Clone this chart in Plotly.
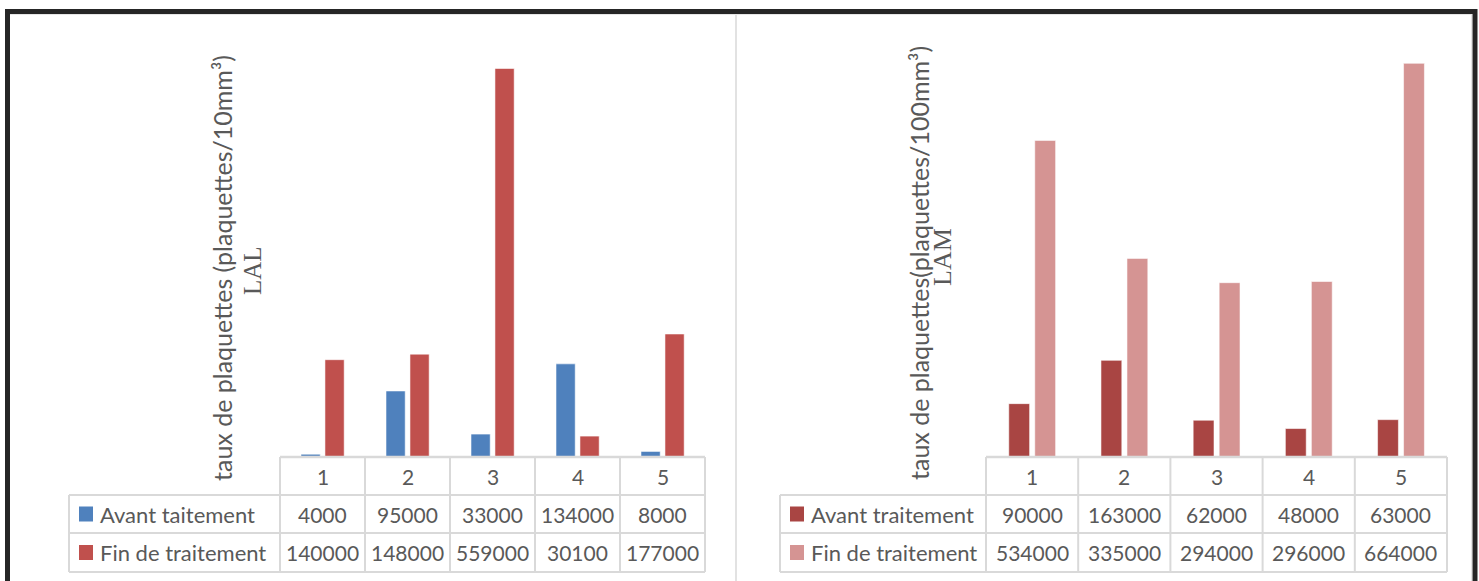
import plotly.graph_objects as go

# ---- data -------------------------------------------------------------
categories = [1, 2, 3, 4, 5]
tick_labels = ["1", "2", "3", "4", "5"]

lal_series = ["Avant taitement", "Fin de traitement"]
lal_avant = [4000, 95000, 33000, 134000, 8000]
lal_fin = [140000, 148000, 559000, 30100, 177000]

lam_series = ["Avant traitement", "Fin de traitement"]
lam_avant = [90000, 163000, 62000, 48000, 63000]
lam_fin = [534000, 335000, 294000, 296000, 664000]

lal_title = "taux de plaquettes (plaquettes/10mm³)"
lam_title = "taux de plaquettes(plaquettes/100mm³)"

# ---- page geometry ----------------------------------------------------
W, H = 1479, 581
TEXT = "#595959"
GRID = "#D9D9D9"
SANS = "Lato, 'Open Sans', sans-serif"
SERIF = "'Liberation Serif', 'DejaVu Serif', serif"
TABLE_SIZE = 21
LABEL_SIZE = 22
TITLE_SIZE = 25


def fx(px):
    return px / W


def fy(py):
    return 1 - py / H


panels = [
    dict(xa="x", ya="y", x0=280, x1=705, top=40, ymax=600000, tleft=69,
         names=lal_series, vals=(lal_avant, lal_fin),
         colors=("#4F81BD", "#C0504D"), title=lal_title, sub="LAL", sub_size=25,
         tx=222, sx=252, tcy=268, scy=271, key_x=79, lab_x=98),
    dict(xa="x2", ya="y2", x0=986, x1=1447, top=42, ymax=700000, tleft=780,
         names=lam_series, vals=(lam_avant, lam_fin),
         colors=("#A94543", "#D59493"), title=lam_title, sub="LAM", sub_size=26,
         tx=919, sx=942, tcy=263, scy=257, key_x=790, lab_x=809),
]

BASE = 457          # bar baseline / table top
ROWS = [457, 495, 533, 572]

fig = go.Figure()
shapes = []
annotations = []


def note(x, y, text, font, xref="paper", **kw):
    d = dict(x=x, y=y, xref=xref, yref="paper", text=text, showarrow=False,
             font=font, xanchor="center", yanchor="middle")
    d.update(kw)
    annotations.append(d)


for p in panels:
    # bars
    offsets = (-0.253, 0.029)
    for name, v, c, off in zip(p["names"], p["vals"], p["colors"], offsets):
        fig.add_trace(go.Bar(
            x=categories, y=v, name=name, xaxis=p["xa"], yaxis=p["ya"],
            width=0.226, offset=off,
            marker=dict(color=c, line=dict(color="rgba(255,255,255,0.55)", width=1)),
            showlegend=False, hoverinfo="x+y",
        ))

    # data table grid
    step = (p["x1"] - p["x0"]) / len(categories)
    bounds = [p["x0"] + i * step for i in range(len(categories) + 1)]
    for b in bounds:
        shapes.append(dict(type="line", xref="paper", yref="paper",
                           x0=fx(b), x1=fx(b), y0=fy(ROWS[0]), y1=fy(ROWS[-1]),
                           line=dict(color=GRID, width=2)))
    shapes.append(dict(type="line", xref="paper", yref="paper",
                       x0=fx(p["tleft"]), x1=fx(p["tleft"]), y0=fy(ROWS[1]), y1=fy(ROWS[-1]),
                       line=dict(color=GRID, width=2)))
    shapes.append(dict(type="line", xref="paper", yref="paper",
                       x0=fx(p["x0"]), x1=fx(p["x1"]), y0=fy(ROWS[0]), y1=fy(ROWS[0]),
                       line=dict(color=GRID, width=2.5)))
    for r in ROWS[1:]:
        shapes.append(dict(type="line", xref="paper", yref="paper",
                           x0=fx(p["tleft"]), x1=fx(p["x1"]), y0=fy(r), y1=fy(r),
                           line=dict(color=GRID, width=2)))

    tfont = dict(family=SANS, size=TABLE_SIZE, color=TEXT)
    lfont = dict(family=SANS, size=LABEL_SIZE, color=TEXT)

    # header row (category labels)
    hy = fy((ROWS[0] + ROWS[1]) / 2)
    for c, t in zip(categories, tick_labels):
        note(c, hy, t, tfont, xref=p["xa"])

    # value rows with legend keys
    for i, (name, v, col) in enumerate(zip(p["names"], p["vals"], p["colors"])):
        ry = (ROWS[i + 1] + ROWS[i + 2]) / 2
        for c, val in zip(categories, v):
            note(c, fy(ry), str(val), tfont, xref=p["xa"])
        shapes.append(dict(type="rect", xref="paper", yref="paper",
                           x0=fx(p["key_x"]), x1=fx(p["key_x"] + 14),
                           y0=fy(ry + 7.5), y1=fy(ry - 7.5),
                           fillcolor=col, line=dict(width=0)))
        note(fx(p["lab_x"]), fy(ry), name, lfont, xanchor="left")

    # vertical axis title (two lines)
    note(fx(p["tx"]), fy(p["tcy"]), p["title"],
         dict(family=SANS, size=TITLE_SIZE, color=TEXT), textangle=-90)
    note(fx(p["sx"]), fy(p["scy"]), p["sub"],
         dict(family=SERIF, size=p["sub_size"], color=TEXT), textangle=-90)

# divider between the two chart objects and their faint top edge
shapes.append(dict(type="line", xref="paper", yref="paper", x0=fx(736), x1=fx(736),
                   y0=fy(600), y1=fy(14), line=dict(color=GRID, width=1.5)))
shapes.append(dict(type="line", xref="paper", yref="paper", x0=fx(10), x1=fx(1472),
                   y0=fy(14.5), y1=fy(14.5), line=dict(color="#E6E6E6", width=1)))
shapes.append(dict(type="line", xref="paper", yref="paper", x0=fx(1471.5), x1=fx(1471.5),
                   y0=fy(600), y1=fy(14), line=dict(color="#E6E6E6", width=1)))
# outer dark frame
for x0, y0, x1, y1 in [(5, 11.5, 1477, 11.5), (7.5, 9, 7.5, 600), (1475, 9, 1475, 600)]:
    shapes.append(dict(type="line", xref="paper", yref="paper",
                       x0=fx(x0), x1=fx(x1), y0=fy(y0), y1=fy(y1),
                       line=dict(color="#262626", width=5)))

axis_common = dict(showgrid=False, zeroline=False, showticklabels=False,
                   ticks="", showline=False)

p1, p2 = panels
fig.update_layout(
    width=W, height=H,
    margin=dict(l=0, r=0, t=0, b=0),
    paper_bgcolor="white", plot_bgcolor="white",
    barmode="group",
    xaxis=dict(domain=[fx(p1["x0"]), fx(p1["x1"])], range=[0.5, 5.5], **axis_common),
    yaxis=dict(domain=[fy(BASE), fy(p1["top"])], range=[0, p1["ymax"]], **axis_common),
    xaxis2=dict(domain=[fx(p2["x0"]), fx(p2["x1"])], range=[0.5, 5.5], anchor="y2", **axis_common),
    yaxis2=dict(domain=[fy(BASE), fy(p2["top"])], range=[0, p2["ymax"]], anchor="x2", **axis_common),
    shapes=shapes,
    annotations=annotations,
)

fig.write_html("out.html")
